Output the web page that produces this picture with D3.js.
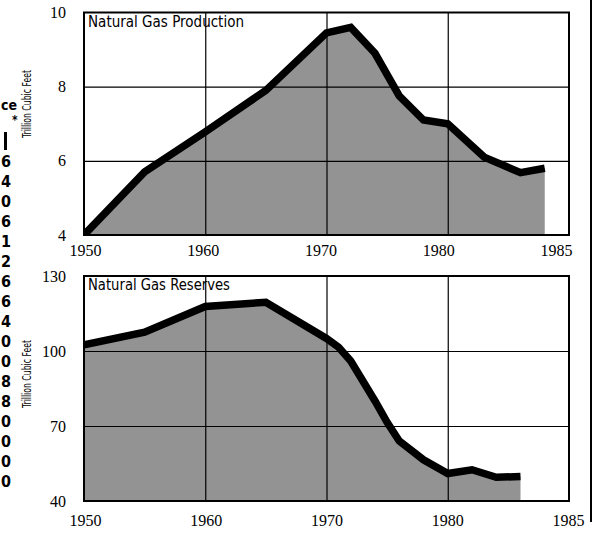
<!DOCTYPE html>
<html>
<head>
<meta charset="utf-8">
<script src="https://cdn.jsdelivr.net/npm/d3@7"></script>
<style>
  body { margin: 0; background: #fff; }
  svg { display: block; }
  .narrow { font-family: "Liberation Sans Narrow", "DejaVu Sans Condensed", "Arial Narrow", sans-serif; }
  .serif { font-family: "Liberation Serif", "DejaVu Serif", serif; }
</style>
</head>
<body>
<svg id="chart" width="594" height="534"></svg>
<script>
// production, trillion cubic feet
const prodYears = [1950, 1955, 1960, 1965, 1970, 1972, 1974, 1976, 1978, 1980, 1983, 1986, 1988]
const prodValues = [4.0, 5.7, 6.78, 7.9, 9.45, 9.6, 8.9, 7.75, 7.1, 7.0, 6.1, 5.68, 5.8]

// reserves, trillion cubic feet
const resYears = [1950, 1955, 1960, 1965, 1970, 1971, 1972, 1973, 1974, 1975, 1976, 1978, 1980, 1982, 1984, 1986]
const resValues = [102.5, 107.5, 117.8, 119.5, 105, 101.5, 96, 88, 80, 71.5, 64, 56.5, 51, 52.5, 49.5, 49.8]

const xGridYears = [1960, 1970, 1980]
const xTickLabels = ["1950", "1960", "1970", "1980", "1985"]
const prodTicks = [4, 6, 8, 10]
const resTicks = [40, 70, 100, 130]

// stray column from the facing page, at the left edge
const strayHeader = ["ce", "*"]
const strayDigits = ["6", "4", "0", "6", "1", "2", "6", "6", "4", "0", "0", "8", "8", "0", "0", "0", "0"]

const svg = d3.select("#chart")
const defs = svg.append("defs")

const x = d3.scaleLinear().domain([1950, 1990]).range([84, 569])

function panel(id, years, values, yDomain, yRange, ticks, title, titleLen, labelRange, labelY, axisTitleY) {
  const y = d3.scaleLinear().domain(yDomain).range(yRange)
  const g = svg.append("g")
  const [x0, x1] = x.range()
  const [yb, yt] = y.range()

  defs.append("clipPath").attr("id", "clip-" + id)
    .append("rect").attr("x", x0).attr("y", yt).attr("width", x1 - x0).attr("height", yb - yt)

  const data = years.map((yr, i) => ({ year: yr, v: values[i] }))

  const area = d3.area()
    .x(d => x(d.year))
    .y0(y(yDomain[0]))
    .y1(d => y(d.v))

  const line = d3.line()
    .x(d => x(d.year))
    .y(d => y(d.v))

  const body = g.append("g").attr("clip-path", "url(#clip-" + id + ")")

  body.append("path")
    .datum(data)
    .attr("d", area)
    .attr("fill", "#939393")

  // grid
  body.append("g")
    .attr("transform", `translate(0,${yb})`)
    .call(d3.axisBottom(x).tickValues(xGridYears).tickSize(-(yb - yt)).tickFormat(""))
    .call(a => a.select(".domain").remove())
    .call(a => a.selectAll("line").attr("stroke", "#000").attr("stroke-width", 1.2))

  body.append("g")
    .attr("transform", `translate(${x0},0)`)
    .call(d3.axisLeft(y).tickValues(ticks.slice(1, -1)).tickSize(-(x1 - x0)).tickFormat(""))
    .call(a => a.select(".domain").remove())
    .call(a => a.selectAll("line").attr("stroke", "#000").attr("stroke-width", 1.2))

  body.append("path")
    .datum(data)
    .attr("d", line)
    .attr("fill", "none")
    .attr("stroke", "#000")
    .attr("stroke-width", 7.5)
    .attr("stroke-linejoin", "miter")
    .attr("stroke-miterlimit", 4)

  g.append("rect")
    .attr("x", x0).attr("y", yt)
    .attr("width", x1 - x0).attr("height", yb - yt)
    .attr("fill", "none")
    .attr("stroke", "#000")
    .attr("stroke-width", 2)

  // y tick labels
  g.append("g")
    .attr("transform", "translate(66,0)")
    .call(d3.axisLeft(y).tickValues(ticks).tickSize(0).tickPadding(0).tickFormat(d3.format("d")))
    .call(a => a.select(".domain").remove())
    .call(a => a.selectAll("text")
      .attr("class", "serif")
      .attr("font-size", 16)
      .attr("font-family", null)
      .attr("fill", "#000"))

  // x tick labels, spaced as printed
  const xl = d3.scalePoint().domain(xTickLabels).range(labelRange)
  g.append("g")
    .attr("transform", `translate(0,${labelY})`)
    .call(d3.axisBottom(xl).tickSize(0).tickPadding(0))
    .call(a => a.select(".domain").remove())
    .call(a => a.selectAll("text")
      .attr("class", "serif")
      .attr("font-size", 16)
      .attr("font-family", null)
      .attr("fill", "#000"))

  g.append("text")
    .attr("class", "narrow")
    .attr("x", x0 + 4)
    .attr("y", yt + 14)
    .attr("font-size", 15.5)
    .attr("textLength", titleLen)
    .attr("lengthAdjust", "spacingAndGlyphs")
    .text(title)

  g.append("text")
    .attr("class", "narrow")
    .attr("transform", `translate(31,${axisTitleY}) rotate(-90)`)
    .attr("text-anchor", "middle")
    .attr("font-size", 13)
    .attr("textLength", 68)
    .attr("lengthAdjust", "spacingAndGlyphs")
    .text("Trillion Cubic Feet")
}

panel("prod", prodYears, prodValues, [4, 10], [235, 12.5], prodTicks,
  "Natural Gas Production", 156, [85, 556], 245, 104)
panel("res", resYears, resValues, [40, 130], [501, 276], resTicks,
  "Natural Gas Reserves", 142, [85, 568], 515, 374)

// page edge line at the right
svg.append("line")
  .attr("x1", 591).attr("x2", 591)
  .attr("y1", 0).attr("y2", 522)
  .attr("stroke", "#000").attr("stroke-width", 2)

// stray column at the left
const sy = d3.scaleLinear().domain([0, strayDigits.length - 1]).range([167, 487])
svg.append("text")
  .attr("class", "narrow")
  .attr("x", 1).attr("y", 110)
  .attr("font-size", 14).attr("font-weight", "bold")
  .text(strayHeader[0])
svg.append("text")
  .attr("class", "narrow")
  .attr("x", 12).attr("y", 124)
  .attr("font-size", 12).attr("font-weight", "bold")
  .text(strayHeader[1])
svg.append("rect")
  .attr("x", 4).attr("y", 132).attr("width", 3).attr("height", 18).attr("fill", "#000")
svg.append("g").selectAll("text")
  .data(strayDigits)
  .enter().append("text")
    .attr("class", "narrow")
    .attr("x", 1)
    .attr("y", (d, i) => sy(i))
    .attr("font-size", 16)
    .attr("font-weight", "bold")
    .text(d => d)
</script>
</body>
</html>
